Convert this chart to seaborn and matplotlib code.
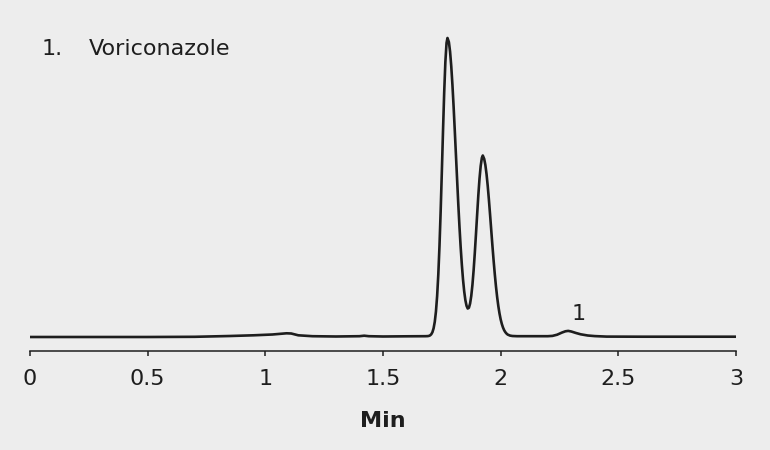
import matplotlib
matplotlib.use("Agg")
import matplotlib.pyplot as plt
import seaborn as sns

# chromatogram trace (time in min, detector signal in arbitrary units)
baseline_time = [0.0, 0.25, 0.5, 0.7, 0.85, 0.95, 1.03, 1.07, 1.09, 1.11, 1.14, 1.2, 1.3, 1.4, 1.42, 1.44, 1.5, 1.6, 1.68]
baseline_signal = [-0.5, -0.5, -0.5, -0.3, 0.5, 1.2, 2.0, 2.8, 3.2, 3.0, 1.2, 0.3, 0.0, 0.3, 0.8, 0.3, 0.0, 0.2, 0.3]

peaks_time = [1.690, 1.695, 1.700, 1.705, 1.710, 1.715, 1.720, 1.725, 1.730, 1.735,
              1.740, 1.745, 1.750, 1.755, 1.760, 1.765, 1.770, 1.774, 1.780, 1.785,
              1.790, 1.795, 1.800, 1.805, 1.810, 1.815, 1.820, 1.825, 1.830, 1.835,
              1.840, 1.845, 1.850, 1.855, 1.860, 1.865, 1.870, 1.875, 1.880, 1.885,
              1.890, 1.895, 1.900, 1.905, 1.910, 1.915, 1.920, 1.924, 1.930, 1.935,
              1.940, 1.945, 1.950, 1.955, 1.960, 1.965, 1.970, 1.975, 1.980, 1.985,
              1.990, 1.995, 2.000, 2.005, 2.010, 2.015, 2.020, 2.025, 2.030, 2.040,
              2.050, 2.070]
peaks_signal = [0.4, 0.6, 1.1, 2.2, 4.3, 8.2, 14.7, 25.0, 40.4, 62.0,
                90.4, 125.2, 164.6, 205.5, 243.8, 274.5, 293.6, 298.5, 294.4, 284.9,
                270.4, 251.8, 230.0, 206.0, 181.2, 156.4, 132.0, 109.6, 89.4, 71.9,
                57.0, 45.2, 36.4, 30.7, 28.0, 28.7, 32.9, 40.5, 51.6, 66.0,
                83.2, 102.2, 121.8, 140.9, 157.6, 170.3, 178.5, 181.0, 177.6, 171.5,
                162.3, 150.6, 136.8, 121.8, 106.2, 90.7, 76.0, 62.4, 50.1, 39.5,
                30.5, 23.1, 17.1, 12.5, 8.9, 6.2, 4.3, 2.9, 1.9, 0.9,
                0.5, 0.3]

tail_time = [2.10, 2.15, 2.20, 2.22, 2.24, 2.26, 2.275, 2.287, 2.30, 2.32, 2.34, 2.37, 2.40, 2.45, 2.6, 2.8, 3.0]
tail_signal = [0.3, 0.3, 0.3, 0.6, 1.8, 3.9, 5.2, 5.6, 5.0, 3.5, 2.2, 1.0, 0.4, -0.1, -0.2, -0.2, -0.2]

time_min = baseline_time + peaks_time + tail_time
signal = baseline_signal + peaks_signal + tail_signal

x_ticks = [0, 0.5, 1, 1.5, 2, 2.5, 3]
x_tick_labels = ["0", "0.5", "1", "1.5", "2", "2.5", "3"]
peak_labels = ["1"]
peak_label_pos = [(2.33, 13)]
compound_number = "1."
compound_name = "Voriconazole"

bg = "#ededed"
ink = "#1e1e1e"
fs = 16

sns.set_style("white")
plt.rcParams["font.family"] = ["DejaVu Sans"]

fig = plt.figure(figsize=(7.7, 4.5), dpi=100, facecolor=bg)
ax = fig.add_axes([30 / 770, 1 - 351 / 450, 706 / 770, 321 / 450])
ax.set_facecolor(bg)

sns.lineplot(x=time_min, y=signal, ax=ax, color=ink, linewidth=1.9, sort=False)

ax.set_xlim(0, 3)
ax.set_ylim(-14.5, 306.5)
ax.set_xticks(x_ticks)
ax.set_xticklabels(x_tick_labels)
ax.set_yticks([])
for s in ["top", "right", "left"]:
    ax.spines[s].set_visible(False)
ax.spines["bottom"].set_color(ink)
ax.spines["bottom"].set_linewidth(1.1)
ax.spines["bottom"].set_bounds(0, 3)
ax.tick_params(axis="x", bottom=True, direction="out", length=3.5, width=1.1, color=ink,
               labelsize=fs, labelcolor=ink, pad=9.5)
ax.set_xlabel("Min", fontsize=fs, fontweight="bold", color=ink, labelpad=16)

for lab, (px, py) in zip(peak_labels, peak_label_pos):
    ax.text(px, py, lab, ha="center", va="bottom", fontsize=fs, color=ink)

fig.text(42 / 770, 1 - 55 / 450, compound_number, ha="left", va="baseline", fontsize=fs, color=ink)
fig.text(89 / 770, 1 - 55 / 450, compound_name, ha="left", va="baseline", fontsize=fs, color=ink)

fig.savefig("out.png", dpi=100, facecolor=bg)
